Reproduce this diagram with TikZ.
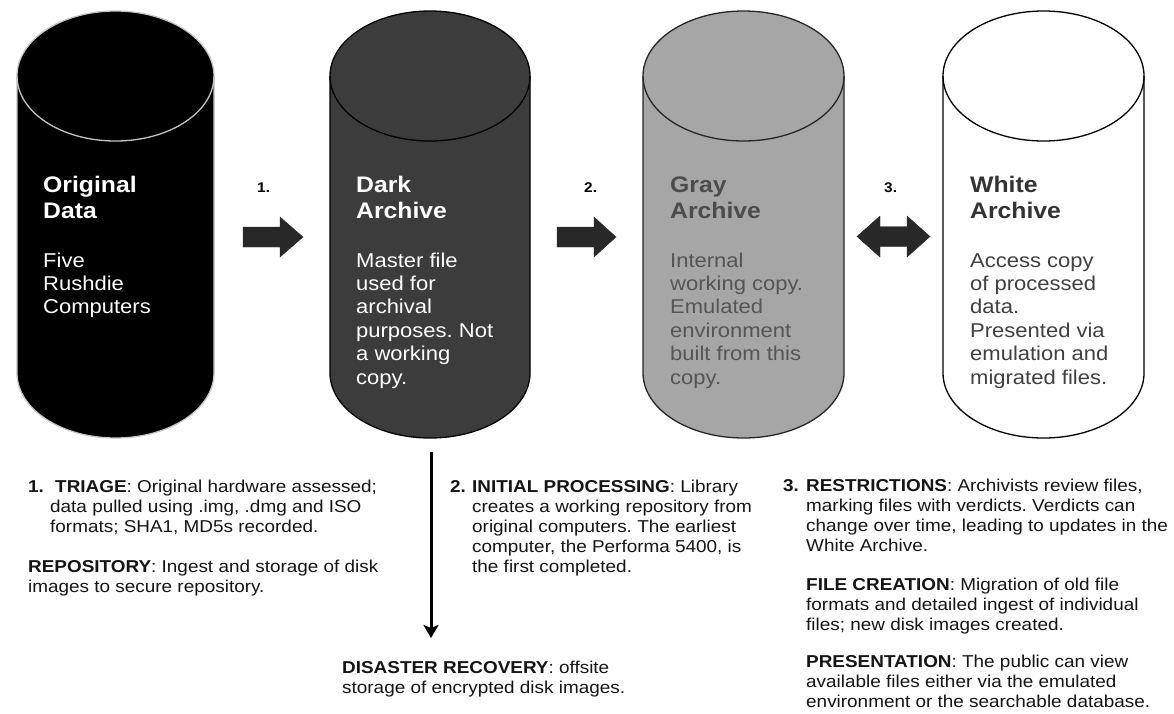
\documentclass[tikz,border=0pt]{standalone}
\usepackage{fontspec}
\setmainfont[FakeStretch=1.1]{Liberation Sans}
\usetikzlibrary{arrows.meta}
\frenchspacing
\definecolor{darkarch}{HTML}{3C3C3C}
\definecolor{grayarch}{HTML}{A6A6A6}
\definecolor{arrowfill}{HTML}{282828}
\definecolor{graytitle}{HTML}{4C4C4C}
\definecolor{graybody}{HTML}{555555}
\definecolor{whitetitle}{HTML}{333333}
\definecolor{whitebody}{HTML}{404040}
\definecolor{blacktxt}{HTML}{151515}
\definecolor{blackedge}{HTML}{C4C4C4}

\newcommand\drawcyl[5]{% left, right, fill, draw, name
  \pgfmathsetmacro\cylrx{(#2-#1)/2}
  \pgfmathsetmacro\cylcx{(#2+#1)/2}
  \filldraw[fill=#3, draw=#4, cylline] (#1,-76) -- (#1,-373)
    arc[start angle=180, end angle=360, x radius=\cylrx pt, y radius=65pt]
    -- (#2,-76)
    arc[start angle=0, end angle=180, x radius=\cylrx pt, y radius=65pt] -- cycle;
  \draw[#4, cylline] (#1,-76)
    arc[start angle=180, end angle=360, x radius=\cylrx pt, y radius=65pt];
  \node[cylbox, minimum width=2*\cylrx pt] (#5) at (\cylcx,-224.5) {};
}
\newcommand\lns[1]{\parbox[t]{420pt}{\raggedright\frenchspacing #1}}

\begin{document}
\begin{tikzpicture}[x=1pt, y=1pt,
  cylline/.style={line width=1.3pt},
  cylbox/.style={inner sep=0pt, minimum height=427pt, draw=none},
  title/.style={anchor=base west, inner sep=0pt, font=\fontsize{22.5}{26}\selectfont\bfseries},
  body/.style={anchor=base west, inner sep=0pt, font=\fontsize{20}{23.4}\selectfont},
  steplbl/.style={anchor=base west, inner sep=0pt, font=\fontsize{14}{16}\selectfont\bfseries, text=black},
  note/.style={anchor=base west, inner sep=0pt, font=\fontsize{17.2}{20}\selectfont, text=blacktxt},
  blockarrow/.style={fill=arrowfill, draw=arrowfill, line width=0.4pt, line join=miter}
]
\useasboundingbox (0,0) rectangle (1174,-713);

% cylinders
\drawcyl{17}{214}{black}{blackedge}{cyl1}
\drawcyl{330}{530}{darkarch}{black}{cyl2}
\drawcyl{643}{844}{grayarch}{black!85}{cyl3}
\drawcyl{943}{1144}{white}{black}{cyl4}

% cylinder texts
\node[title, text=white] (t1) at (43,-192) {\lns{Original\\Data}};
\node[body, text=white] (b1) at (43,-267) {\lns{Five\\Rushdie\\Computers}};

\node[title, text=white] (t2) at (356,-192) {\lns{Dark\\Archive}};
\node[body, text=white] (b2) at (356,-267) {\lns{Master file\\used for\\archival\\purposes. Not\\a working\\copy.}};

\node[title, text=graytitle] (t3) at (670,-192) {\lns{Gray\\Archive}};
\node[body, text=graybody] (b3) at (670,-267) {\lns{Internal\\working copy.\\Emulated\\environment\\built from this\\copy.}};

\node[title, text=whitetitle] (t4) at (970,-192) {\lns{White\\Archive}};
\node[body, text=whitebody] (b4) at (970,-267) {\lns{Access copy\\of processed\\data.\\Presented via\\emulation and\\migrated files.}};

% step labels
\node[steplbl] (s1) at (257,-192) {1.};
\node[steplbl] (s2) at (584,-192) {2.};
\node[steplbl] (s3) at (884,-192) {3.};

% block arrows
\fill[blockarrow] (243,-227) -- (280,-227) -- (280,-217) -- (303,-237) -- (280,-257)
  -- (280,-247) -- (243,-247) -- cycle;
\fill[blockarrow] (557,-227) -- (594,-227) -- (594,-217) -- (616,-237) -- (594,-257)
  -- (594,-247) -- (557,-247) -- cycle;
\fill[blockarrow] (857,-236.5) -- (880,-216) -- (880,-226.5) -- (907,-226.5) -- (907,-216)
  -- (930,-236.5) -- (907,-257) -- (907,-246.5) -- (880,-246.5) -- (880,-257) -- cycle;

% vertical arrow to disaster recovery
\coordinate (vtop) at (431,-452);
\coordinate (vbot) at (431,-638);
\draw[line width=3pt, -{Stealth[length=13pt, width=15pt, inset=3pt]}] (vtop) -- (vbot);

% notes
\node[note] (n1a) at (28,-492) {\lns{\makebox[27pt][l]{\textbf{1.}}\textbf{TRIAGE}: Original hardware assessed;\\
  \hspace*{22pt}data pulled using .img, .dmg and ISO\\
  \hspace*{22pt}formats; SHA1, MD5s recorded.}};
\node[note] (n1b) at (28,-572) {\lns{\textbf{REPOSITORY}: Ingest and storage of disk\\images to secure repository.}};

\node[note] (n2) at (450,-492) {\lns{\makebox[22pt][l]{\textbf{2.}}\textbf{INITIAL PROCESSING}: Library\\
  \hspace*{22pt}creates a working repository from\\
  \hspace*{22pt}original computers. The earliest\\
  \hspace*{22pt}computer, the Performa 5400, is\\
  \hspace*{22pt}the first completed.}};

\node[note] (n3a) at (783,-491) {\lns{\makebox[23pt][l]{\textbf{3.}}\textbf{RESTRICTIONS}: Archivists review files,\\
  \hspace*{23pt}marking files with verdicts. Verdicts can\\
  \hspace*{23pt}change over time, leading to updates in the\\
  \hspace*{23pt}White Archive.}};
\node[note] (n3b) at (806,-590) {\lns{\textbf{FILE CREATION}: Migration of old file\\formats and detailed ingest of individual\\files; new disk images created.}};
\node[note] (n3c) at (806,-667) {\lns{\textbf{PRESENTATION}: The public can view\\available files either via the emulated\\environment or the searchable database.}};

\node[note] (dr) at (342,-673) {\lns{\textbf{DISASTER RECOVERY}: offsite\\storage of encrypted disk images.}};
\end{tikzpicture}
\end{document}
